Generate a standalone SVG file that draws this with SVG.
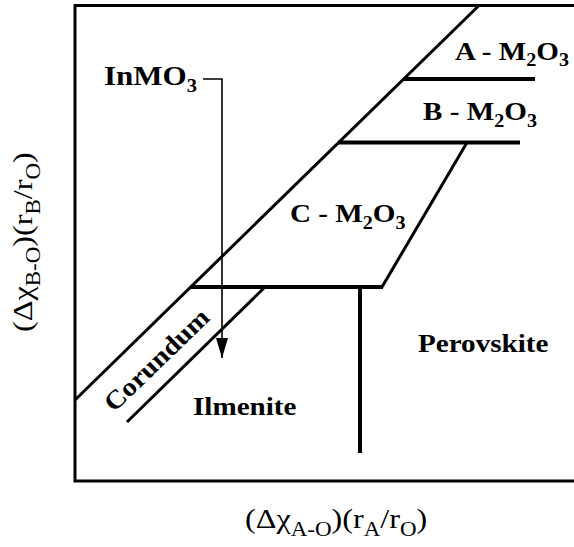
<svg xmlns="http://www.w3.org/2000/svg" width="574" height="547" viewBox="0 0 574 547">
  <defs>
    <style>
      .ln { stroke:#000; fill:none; stroke-width:3; stroke-linecap:butt; }
      .bar { stroke:#000; fill:none; stroke-width:4; }
      .thin { stroke:#000; fill:none; stroke-width:1.6; }
      .lbl { font-family:"Liberation Serif","Times New Roman",serif; font-weight:bold; font-size:26px; fill:#000; }
      .sub { font-size:18px; }
      .ax { font-family:"Liberation Serif","Times New Roman",serif; font-weight:normal; font-size:28px; fill:#000; }
      .axsub { font-size:20px; }
    </style>
    <marker id="arrow" viewBox="0 0 20 12" markerWidth="20" markerHeight="12" refX="20" refY="6" orient="auto" markerUnits="userSpaceOnUse">
      <path d="M0,0 L20,6 L0,12 z" fill="#000"/>
    </marker>
  </defs>
  <rect width="574" height="547" fill="#fff"/>

  <g id="frame">
    <path class="ln" d="M580,5.5 H75 V481 H580"/>
  </g>

  <g id="connectors">
    <path id="upper-boundary" class="ln" d="M479,5.5 L75,400"/>
    <path id="corundum-lower" class="ln" d="M265,287 L127,422"/>
    <path id="a-bar" class="bar" d="M403,79 H535"/>
    <path id="b-bar" class="bar" d="M338,142.5 H520"/>
    <path id="bc-slant" class="ln" d="M467,142.5 L382,287"/>
    <path id="c-bar" class="bar" d="M191,287 H383"/>
    <path id="perov-vert" class="bar" d="M360,287 V453"/>
    <path id="inmo3-arrow" class="thin" d="M203,79 H222 V358" marker-end="url(#arrow)"/>
  </g>

  <g id="label-A">
    <text class="lbl" transform="translate(455,59.5) scale(1.12,1)">A - M<tspan class="sub" dy="6">2</tspan><tspan dy="-6">O</tspan><tspan class="sub" dy="6">3</tspan></text>
  </g>
  <g id="label-B">
    <text class="lbl" transform="translate(423,120) scale(1.12,1)">B - M<tspan class="sub" dy="7">2</tspan><tspan dy="-7">O</tspan><tspan class="sub" dy="7">3</tspan></text>
  </g>
  <g id="label-C">
    <text class="lbl" transform="translate(290,222) scale(1.12,1)">C - M<tspan class="sub" dy="7">2</tspan><tspan dy="-7">O</tspan><tspan class="sub" dy="7">3</tspan></text>
  </g>
  <g id="label-InMO3">
    <text class="lbl" transform="translate(104,85) scale(1.15,1)" style="font-size:27px">InMO<tspan class="sub" dy="7">3</tspan></text>
  </g>
  <g id="label-Perovskite">
    <text class="lbl" transform="translate(418,352) scale(1.12,1)">Perovskite</text>
  </g>
  <g id="label-Ilmenite">
    <text class="lbl" transform="translate(193,415) scale(1.12,1)">Ilmenite</text>
  </g>
  <g id="label-Corundum">
    <text class="lbl" transform="translate(114,413) rotate(-44) scale(1.1,1)">Corundum</text>
  </g>

  <g id="x-axis-label">
    <text class="ax" transform="translate(245,528) scale(1.15,1)">(Δχ<tspan class="axsub" dy="8">A-O</tspan><tspan dy="-8">)(r</tspan><tspan class="axsub" dy="8">A</tspan><tspan dy="-8">/r</tspan><tspan class="axsub" dy="8">O</tspan><tspan dy="-8">)</tspan></text>
  </g>
  <g id="y-axis-label">
    <text class="ax" transform="translate(32,332) rotate(-90) scale(1.15,1)">(Δχ<tspan class="axsub" dy="8">B-O</tspan><tspan dy="-8">)(r</tspan><tspan class="axsub" dy="8">B</tspan><tspan dy="-8">/r</tspan><tspan class="axsub" dy="8">O</tspan><tspan dy="-8">)</tspan></text>
  </g>
</svg>
